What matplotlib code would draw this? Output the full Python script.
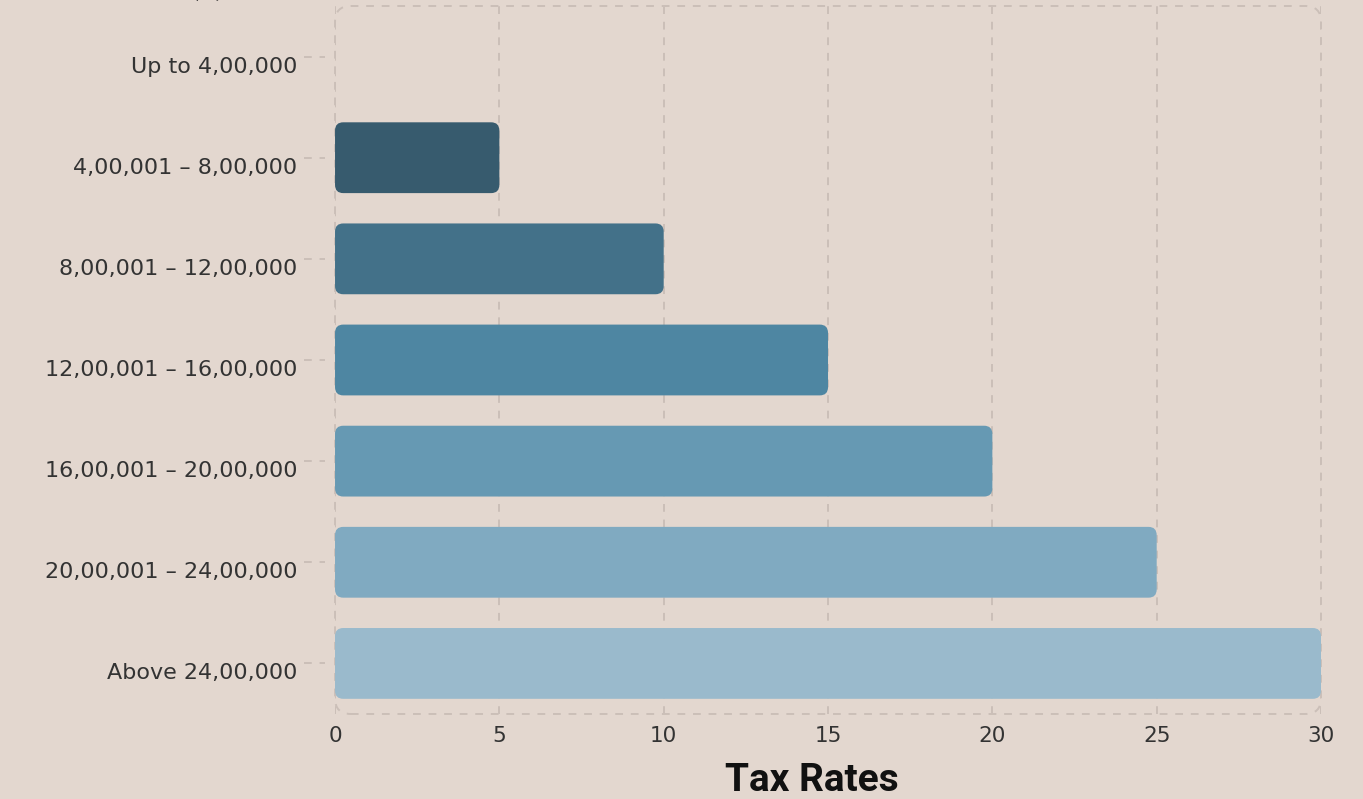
import matplotlib
matplotlib.use("Agg")
import matplotlib.pyplot as plt
import matplotlib.transforms as mtrans
from matplotlib.patches import FancyBboxPatch

# income slabs and tax rates (%)
slabs = ["Up to 4,00,000", "4,00,001 – 8,00,000", "8,00,001 – 12,00,000",
         "12,00,001 – 16,00,000", "16,00,001 – 20,00,000",
         "20,00,001 – 24,00,000", "Above 24,00,000"]
rates = [0, 5, 10, 15, 20, 25, 30]
colors = ["#2B4A5B", "#375B6E", "#437189", "#4E86A2", "#6699B3", "#80AAC1", "#9ABACC"]

bg = "#E3D7CF"
gridc = "#CBBFB8"
labfont = "DejaVu Sans"

fig = plt.figure(figsize=(13.63, 7.99), dpi=100, facecolor=bg)
ax = fig.add_axes([0.2458, 0.1064, 0.7234, 0.8861], facecolor=bg)

bars = ax.barh(range(len(slabs)), rates, height=0.7, color=colors)
ax.set_xlim(0, 30)
ax.set_ylim(len(slabs) - 0.5, -0.5)

# swap rectangles for rounded ones
for b, c in zip(bars, colors):
    x, y, w, h = b.get_x(), b.get_y(), b.get_width(), b.get_height()
    b.set_visible(False)
    if w <= 0:
        continue
    ax.add_patch(FancyBboxPatch((x, y), w, h,
                                boxstyle="round,pad=0,rounding_size=0.25",
                                mutation_aspect=0.326, fc=c, ec="none", zorder=2))

for s in ax.spines.values():
    s.set_visible(False)

ax.set_xticks(range(0, 31, 5))
ax.grid(axis="x", linestyle=(0, (4, 4)), color=gridc, lw=1.4, zorder=0)
ax.tick_params(axis="x", length=0, pad=9, labelsize=15.5, labelcolor="#333333")
for lab in ax.get_xticklabels():
    lab.set_family(labfont)
ax.set_yticks(range(len(slabs)))
ax.set_yticklabels([])
ax.tick_params(axis="y", length=0)

# slab labels, sitting a little below their ticks
lab_tr = mtrans.offset_copy(ax.get_yaxis_transform(), fig=fig, x=0, y=-10, units="dots")
for i, s in enumerate(slabs):
    ax.text(-0.038, i, s, transform=lab_tr, ha="right", va="center",
            fontsize=16, family=labfont, color="#333333", clip_on=False)

# dashed y ticks outside the frame
for i in range(len(slabs)):
    ax.plot([-0.031, -0.01], [i, i], transform=ax.get_yaxis_transform(),
            ls=(0, (4, 4)), color=gridc, lw=1.4, clip_on=False)

# rounded dashed frame
ax.add_patch(FancyBboxPatch((0, 0), 1, 1, transform=ax.transAxes,
                            boxstyle="round,pad=0,rounding_size=0.016",
                            mutation_aspect=1.39, fc="none", ec=gridc,
                            ls=(0, (4, 4)), lw=1.4, clip_on=False, zorder=1))

ax.set_xlabel("Tax Rates", fontsize=28, fontweight="bold", family="Roboto",
              color="#111111")
ax.xaxis.set_label_coords(0.484, -0.068)
fig.text(226 / 1363, 1 + 6 / 799, "Income Range (₹)", fontsize=22, fontweight="bold",
         family=["Roboto", "DejaVu Sans"], color="#222222", ha="right", va="baseline")

fig.savefig("out.png", facecolor=bg)
